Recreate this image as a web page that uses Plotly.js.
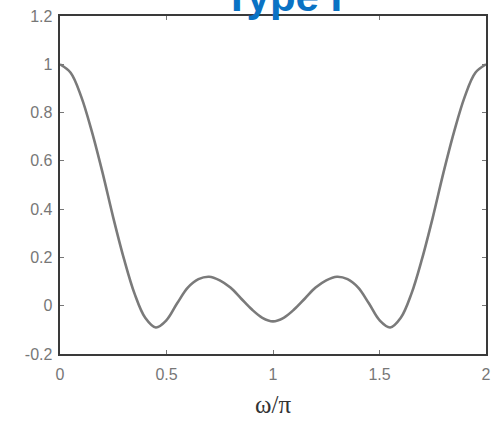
<!DOCTYPE html>
<html>
<head>
<meta charset="utf-8">
<script src="https://cdn.plot.ly/plotly-3.0.1.min.js"></script>
<style>html,body{margin:0;padding:0;background:#fff;}#chart{width:495px;height:422px;}</style>
</head>
<body>
<div id="chart"></div>
<script>
const omega = [0,0.05,0.1,0.15,0.2,0.25,0.3,0.35,0.4,0.45,0.5,0.55,0.6,0.65,0.7,0.75,0.8,0.85,0.9,0.95,1.0,
  1.05,1.1,1.15,1.2,1.25,1.3,1.35,1.4,1.45,1.5,1.55,1.6,1.65,1.7,1.75,1.8,1.85,1.9,1.95,2.0];
const amplitude = [1.0,0.965,0.865,0.72,0.55,0.365,0.195,0.05,-0.05,-0.09,-0.06,0.01,0.075,0.11,0.12,0.105,0.075,0.03,-0.015,-0.05,-0.065,
  -0.05,-0.015,0.03,0.075,0.105,0.12,0.11,0.075,0.01,-0.06,-0.09,-0.05,0.05,0.195,0.365,0.55,0.72,0.865,0.965,1.0];
const xTicks = [0,0.5,1,1.5,2];
const xTickText = ['0','0.5','1','1.5','2'];
const yTicks = [-0.2,0,0.2,0.4,0.6,0.8,1,1.2];
const yTickText = ['-0.2','0','0.2','0.4','0.6','0.8','1','1.2'];
const titleText = 'Type I';

const trace = {
  x: omega, y: amplitude, type: 'scatter', mode: 'lines',
  line: {color: '#7a7a7a', width: 2.6, shape: 'spline', smoothing: 1.0},
  hoverinfo: 'skip'
};
const axisCommon = {
  showgrid: false, zeroline: false, showline: true, mirror: 'ticks',
  linecolor: '#3a3a3a', linewidth: 2.4, ticks: 'inside', ticklen: 4, tickcolor: '#777', tickwidth: 1,
  tickfont: {family: 'Liberation Sans, Arial, sans-serif', size: 16, color: '#777'}
};
const layout = {
  width: 495, height: 422,
  margin: {l: 60, r: 9, t: 16, b: 68},
  paper_bgcolor: '#fff', plot_bgcolor: '#fff',
  showlegend: false,
  annotations: [{
    text: '<b>' + titleText + '</b>', showarrow: false,
    xref: 'paper', yref: 'paper', x: 0.523, y: 1.058, xanchor: 'center', yanchor: 'middle',
    font: {family: 'Liberation Sans, Arial, sans-serif', size: 42, color: '#0a72c4'}
  }],
  xaxis: Object.assign({}, axisCommon, {
    range: [0, 2], tickvals: xTicks, ticktext: xTickText, ticklabelstandoff: 4,
    title: {text: 'ω/π', font: {family: 'Liberation Serif, Times New Roman, serif', size: 25, color: '#333'}, standoff: 14}
  }),
  yaxis: Object.assign({}, axisCommon, {
    range: [-0.2, 1.2], tickvals: yTicks, ticktext: yTickText, ticklabelstandoff: 2
  })
};
Plotly.newPlot('chart', [trace], layout, {displayModeBar: false, staticPlot: true});
</script>
</body>
</html>
